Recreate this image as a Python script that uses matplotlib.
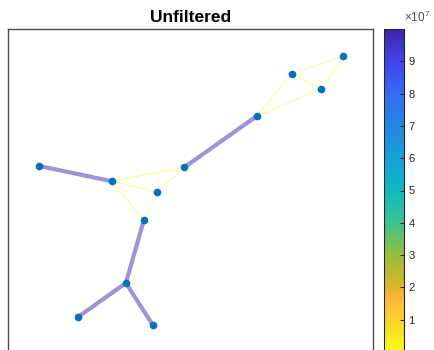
import numpy as np
import matplotlib
matplotlib.use("Agg")
import matplotlib.pyplot as plt
from matplotlib.colors import LinearSegmentedColormap, Normalize
from matplotlib.cm import ScalarMappable

plt.rcParams['font.family'] = ['Liberation Sans', 'DejaVu Sans']

# node layout coordinates
node_x = [0.84, 2.84, 4.07, 4.83, 3.72, 6.81, 7.77, 8.58, 9.19, 3.23, 1.92, 3.96]
node_y = [5.10, 4.68, 4.38, 5.06, 3.61, 6.46, 7.62, 7.20, 8.11, 1.89, 0.96, 0.75]

# edge list (node indices) and edge weights
edge_src = [0, 1, 1, 1, 2, 2, 3, 5, 5, 6, 6, 7, 4, 9, 9]
edge_dst = [1, 3, 2, 4, 3, 4, 5, 6, 7, 7, 8, 8, 9, 10, 11]
edge_w = [9.9e7, 2e5, 2e5, 2e5, 2e5, 2e5, 9.9e7, 2e5, 2e5, 2e5, 2e5, 2e5,
          9.9e7, 9.9e7, 9.9e7]

cbar_ticks = [1e7, 2e7, 3e7, 4e7, 5e7, 6e7, 7e7, 8e7, 9e7]
cbar_labels = ['1', '2', '3', '4', '5', '6', '7', '8', '9']

# parula-like map, reversed so small weights are yellow (position 0 = low)
cmap_pts = [
    (0.00, (249, 251, 20)),
    (0.10, (250, 210, 45)),
    (0.16, (252, 186, 56)),
    (0.20, (222, 180, 40)),
    (0.30, (150, 190, 60)),
    (0.40, (60, 195, 145)),
    (0.50, (15, 185, 195)),
    (0.60, (25, 160, 215)),
    (0.70, (35, 135, 225)),
    (0.80, (50, 110, 245)),
    (0.90, (68, 68, 232)),
    (1.00, (62, 38, 168)),
]
cmap = LinearSegmentedColormap.from_list(
    'parula_r', [(t, tuple(v / 255 for v in c)) for t, c in cmap_pts])
norm = Normalize(vmin=0, vmax=1e8)

W, H = 434, 350
fig = plt.figure(figsize=(W / 100, H / 100), dpi=100)
ax = fig.add_axes([8 / W, (H - 352) / H, 365 / W, 323 / H])
cax = fig.add_axes([384 / W, (H - 352) / H, 19.5 / W, 323 / H])

wmax = max(edge_w)
for s, d, w in zip(edge_src, edge_dst, edge_w):
    lw = max(0.7, 3.0 * w / wmax)
    ax.plot([node_x[s], node_x[d]], [node_y[s], node_y[d]],
            color=cmap(norm(w)), alpha=0.5, lw=lw, solid_capstyle='butt',
            zorder=1)

ax.plot(node_x, node_y, 'o', color='#0072BD', markersize=5.5,
        markeredgewidth=0, zorder=2)

ax.set_xlim(0, 10)
ax.set_ylim(0, 323 / 36.5)
ax.set_xticks([])
ax.set_yticks([])
for sp in ax.spines.values():
    sp.set_color('0.3')
    sp.set_linewidth(1.0)
ax.set_title('Unfiltered', fontsize=12.5, fontweight='bold', pad=5)

sm = ScalarMappable(norm=norm, cmap=cmap)
cb = fig.colorbar(sm, cax=cax, ticks=cbar_ticks)
cb.ax.set_yticklabels(cbar_labels)
cb.ax.tick_params(direction='in', length=3, width=0.7, labelsize=8,
                  pad=3.5, colors='0.15')
cb.outline.set_edgecolor('0.15')
cb.outline.set_linewidth(0.8)
cax.text(1.05, 1.012, r'$\mathregular{\times10^{7}}$', transform=cax.transAxes,
         fontsize=8.5, color='0.3', ha='left', va='bottom')

fig.savefig('out.png', dpi=100)
